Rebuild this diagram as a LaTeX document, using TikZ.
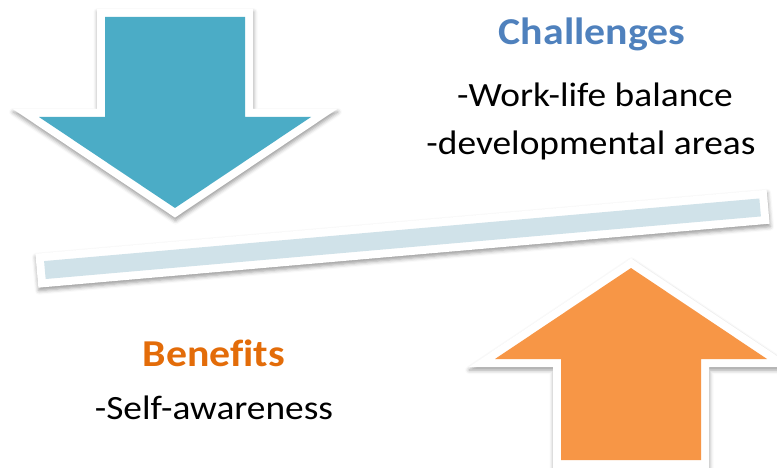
\documentclass[tikz,border=0pt]{standalone}
\usepackage{fontspec}
\usepackage{graphicx}
\setmainfont{Carlito}[Ligatures={NoCommon}]
\usetikzlibrary{shadows.blur}
\definecolor{arrowblue}{HTML}{4BACC6}
\definecolor{arroworange}{HTML}{F79646}
\definecolor{beamfill}{HTML}{D0E2E9}
\definecolor{headblue}{HTML}{4F81BD}
\definecolor{headorange}{HTML}{E36C09}
% slightly widened lettering
\newcommand{\widetext}[1]{\scalebox{1.1}[1]{#1}}
\tikzset{
  frame/.style={fill=white, draw=none,
    blur shadow={shadow xshift=0.5pt, shadow yshift=-3pt,
      shadow blur radius=4pt, shadow opacity=40}},
  heading/.style={anchor=base, inner sep=0pt, font=\fontsize{38}{46}\selectfont\bfseries},
  item/.style={anchor=base, inner sep=0pt, font=\fontsize{34}{40}\selectfont},
}
\begin{document}
\begin{tikzpicture}[x=1pt, y=-1pt]
\useasboundingbox (0,0) rectangle (777,468);

% tilted beam: white frame with a light blue core
\begin{scope}[shift={(402.5,238.75)}, rotate=5]
  \path[frame] (-367,-17) rectangle (367,17);
  \fill[beamfill] (-359,-9) rectangle (359,9);
\end{scope}

% downward arrow (blue)
\path[frame] (97,9) -- (253,9) -- (253,109) -- (337.3,109) -- (175,217.6)
  -- (12.7,109) -- (97,109) -- cycle;
\fill[arrowblue] (105,17) -- (245,17) -- (245,117) -- (311,117) -- (175,208)
  -- (39,117) -- (105,117) -- cycle;

% upward arrow (orange)
\path[frame] (553,475) -- (709,475) -- (709,367) -- (793.3,367) -- (631,258.4)
  -- (468.7,367) -- (553,367) -- cycle;
\fill[arroworange] (561,460) -- (701,460) -- (701,359) -- (767,359) -- (631,268)
  -- (495,359) -- (561,359) -- cycle;

% texts
\node[heading, text=headblue] (chal) at (592,45) {\widetext{Challenges}};
\node[item] (wlb) at (595,107) {\widetext{-Work-life balance}};
\node[item] (dev) at (591,155) {\widetext{-developmental areas}};
\node[heading, text=headorange] (ben) at (214,366) {\widetext{Benefits}};
\node[item] (self) at (214,419) {\widetext{-Self-awareness}};
\end{tikzpicture}
\end{document}
